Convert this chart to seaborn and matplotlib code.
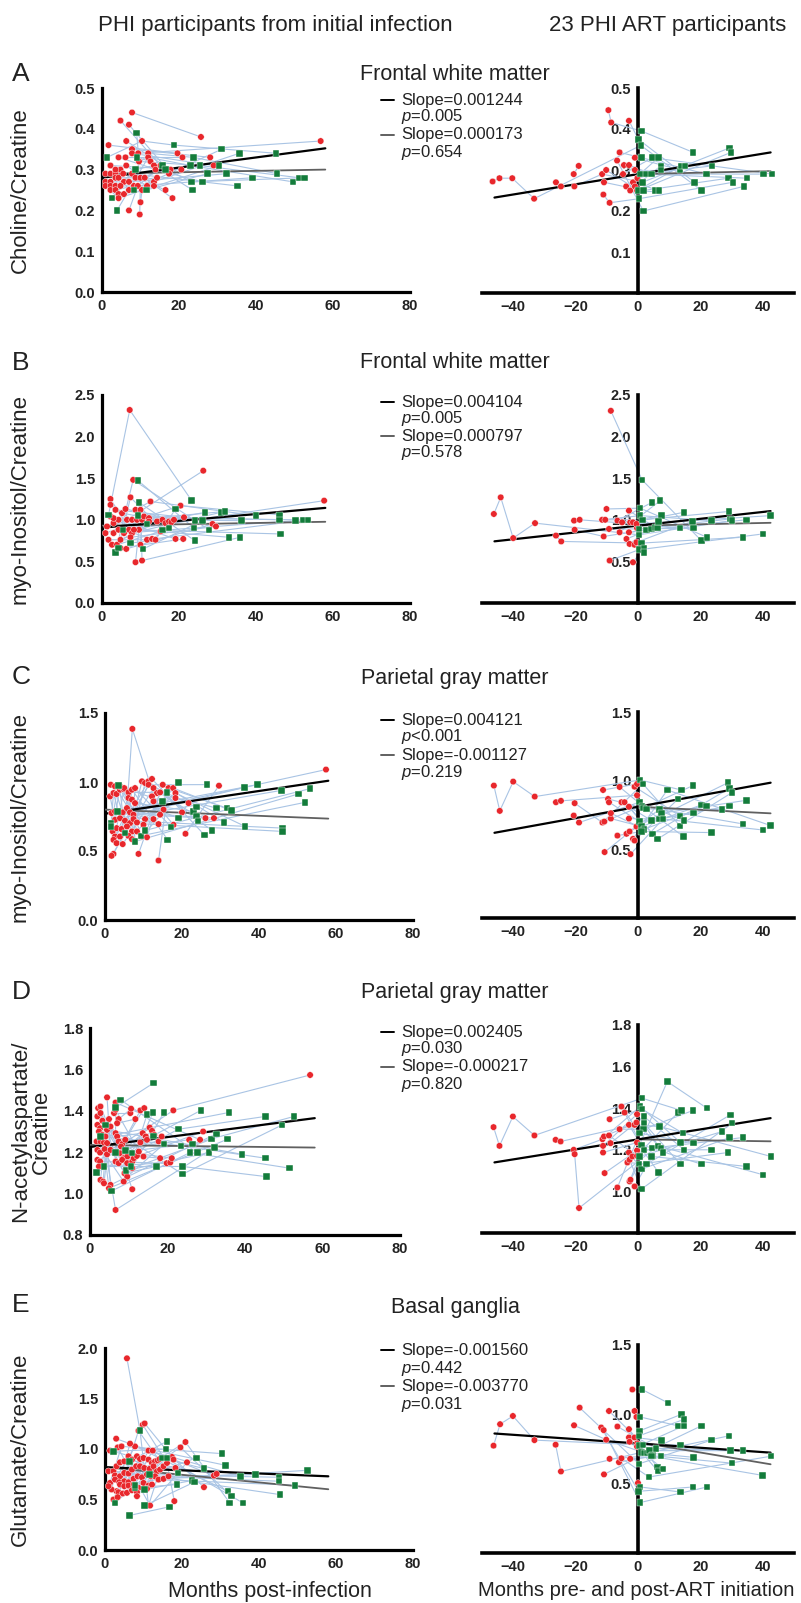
import numpy as np
import pandas as pd
import matplotlib
matplotlib.use("Agg")
import matplotlib.pyplot as plt
from matplotlib.lines import Line2D
from matplotlib.ticker import FormatStrFormatter
import seaborn as sns

sns.set_style("white")
plt.rcParams['font.family'] = ['Liberation Sans', 'DejaVu Sans']
plt.rcParams['mathtext.fontset'] = 'custom'
plt.rcParams['mathtext.rm'] = 'Liberation Sans'
plt.rcParams['mathtext.it'] = 'Liberation Sans:italic'

# ---------------- data (x, ratio, participant id) ----------------
# Panel A - Choline/Creatine, frontal white matter
a_left_red = [(1.7,0.36,1),(4.8,0.42,2),(7.0,0.41,3),(7.8,0.44,4),(6.3,0.37,5),(10.4,0.37,6),(7.8,0.35,7),
    (7.8,0.34,8),(9.4,0.34,9),(12.0,0.34,10),(12.0,0.33,11),(4.3,0.33,12),(6.1,0.33,13),(9.6,0.32,14),
    (12.6,0.32,15),(2.2,0.31,16),(6.3,0.31,17),(13.5,0.31,18),(13.9,0.30,19),(15.2,0.31,2),(17.0,0.30,3),
    (17.8,0.30,5),(17.4,0.29,12),(19.6,0.34,1),(20.9,0.33,13),(20.6,0.30,16),(25.7,0.38,4),(28.1,0.33,7),
    (29.0,0.31,8),(56.8,0.37,9),(18.3,0.23,17),(16.5,0.25,20),(7.0,0.20,21),(9.8,0.19,22),(10.0,0.22,23),
    (0.9,0.29,24),(2.2,0.29,25),(3.5,0.29,26),(0.9,0.27,27),(2.2,0.27,28),(3.5,0.28,29),(0.9,0.26,30),
    (2.2,0.26,31),(3.5,0.26,32),(4.3,0.28,24),(4.8,0.30,25),(3.5,0.30,33),(5.5,0.29,26),(5.7,0.27,27),
    (4.8,0.26,28),(2.2,0.25,34),(3.5,0.25,35),(4.3,0.24,29),(4.3,0.23,30),(5.7,0.24,31),(7.0,0.27,32),
    (7.0,0.25,33),(7.8,0.29,34),(8.3,0.26,35),(8.7,0.28,20),(9.3,0.26,21),(10.0,0.28,22),(10.4,0.25,23),
    (11.1,0.28,24),(11.7,0.26,25),(13.5,0.27,26),(14.3,0.28,27),(13.5,0.26,28)]
a_left_grn = [(1.3,0.33,6),(2.6,0.23,10),(3.9,0.20,11),(9.0,0.39,14),(9.1,0.33,15),(8.7,0.30,18),(8.3,0.25,19),
    (11.5,0.25,29),(18.7,0.36,6),(23.7,0.33,10),(23.0,0.31,11),(25.4,0.31,14),(23.3,0.27,15),(23.5,0.25,18),
    (26.1,0.27,19),(27.4,0.29,29),(30.4,0.31,30),(31.1,0.35,31),(32.4,0.29,32),(35.7,0.34,33),(35.2,0.26,34),
    (39.1,0.28,35),(45.2,0.34,6),(45.5,0.29,10),(49.6,0.27,11),(51.3,0.28,14),(52.6,0.28,15),(15.7,0.31,21),
    (16.5,0.30,22)]
a_right_red = [(-46.6,0.272,1),(-44.4,0.28,1),(-40.3,0.28,1),(-33.3,0.23,1),(-26.3,0.27,2),(-24.7,0.26,2),
    (-20.4,0.26,3),(-20.6,0.29,4),(-19.0,0.31,4),(-11.5,0.29,3),(-10.2,0.30,5),(-10.9,0.27,6),(-11.1,0.24,7),
    (-9.1,0.22,7),(-9.5,0.446,8),(-8.6,0.416,8),(-5.9,0.343,9),(-6.7,0.323,10),(-4.5,0.312,11),(-2.9,0.312,12),
    (-2.9,0.42,13),(-4.8,0.29,14),(-3.8,0.26,15),(-2.5,0.25,16),(-1.6,0.27,17),(-1.0,0.26,18),(-1.0,0.30,19),
    (-1.0,0.33,20),(-0.3,0.25,21),(-0.2,0.28,22)]
a_right_grn = [(1.1,0.395,8),(0.1,0.375,13),(0.9,0.36,1),(1.1,0.33,9),(0.8,0.29,2),(1.4,0.27,3),(0.1,0.25,5),
    (1.7,0.25,6),(0.3,0.23,7),(1.7,0.20,10),(2.7,0.29,11),(4.4,0.29,12),(4.6,0.33,14),(6.5,0.33,15),(5.4,0.25,16),
    (6.7,0.25,17),(7.3,0.31,18),(7.3,0.30,19),(13.4,0.30,20),(14.0,0.31,21),(15.0,0.31,22),(17.7,0.343,8),
    (18.1,0.27,13),(20.4,0.25,1),(22.0,0.29,9),(23.7,0.31,2),(29.4,0.354,3),(29.8,0.343,5),(29.0,0.28,6),
    (30.4,0.27,7),(33.9,0.26,10),(35.0,0.28,11),(40.3,0.29,12),(43.0,0.29,14)]

# Panel B - myo-Inositol/Creatine, frontal white matter
b_left_red = [(7.2,2.32,1),(8.1,1.48,2),(7.4,1.27,3),(26.3,1.59,4),(57.7,1.23,5),(2.2,1.25,6),(2.2,1.18,7),
    (12.6,1.22,8),(20.4,1.17,9),(8.7,0.49,10),(10.4,0.51,11),(10.0,0.70,12),(1.3,0.92,13),(2.2,1.04,14),
    (3.0,0.96,15),(0.9,0.84,16),(1.7,0.76,17),(3.0,0.84,18),(2.6,0.70,19),(3.9,0.70,20),(4.8,0.76,21),
    (4.3,0.88,22),(4.3,1.0,23),(5.2,1.08,24),(6.1,1.13,25),(6.5,1.0,4),(7.0,0.88,5),(7.8,0.84,6),(7.8,1.0,7),
    (8.7,1.12,8),(9.1,1.0,9),(9.6,0.88,10),(10.0,1.12,11),(10.4,1.0,12),(10.9,1.04,13),(3.0,1.02,26),
    (3.5,1.12,27),(4.8,0.66,28),(6.3,0.65,29),(7.4,0.79,30),(8.3,0.88,14),(5.7,0.84,15),(12.2,1.02,16),
    (11.7,0.76,17),(12.2,0.98,18),(14.3,0.98,19),(15.2,0.86,20),(15.7,1.0,21),(16.5,0.96,22),(17.4,0.98,23),
    (18.0,0.97,24),(18.7,1.0,25),(19.1,0.77,26),(21.3,1.03,27),(21.1,0.77,28),(28.7,0.95,29),(29.6,0.92,30),
    (13.0,0.77,31),(13.9,0.76,32)]
b_left_grn = [(1.7,1.06,1),(3.5,0.61,2),(4.3,0.66,3),(5.5,0.88,31),(7.4,0.72,32),(9.4,1.47,33),(9.6,1.21,34),
    (9.3,1.05,35),(10.7,0.65,36),(11.7,0.95,37),(15.7,0.88,3),(17.4,0.90,31),(19.1,1.13,32),(23.3,1.23,1),
    (23.9,0.90,33),(24.1,0.75,34),(24.1,0.99,35),(26.1,0.99,36),(26.7,1.09,37),(27.8,0.88,2),(30.9,1.09,6),
    (31.9,1.10,7),(33.0,0.79,10),(35.9,0.79,11),(36.3,0.99,12),(40.0,1.05,8),(46.1,1.06,9),(46.1,1.0,13),
    (46.3,0.83,14),(50.2,0.99,15),(52.2,1.0,16),(53.5,1.0,17)]
b_right_red = [(-46.2,1.07,1),(-44.0,1.27,1),(-40.0,0.78,1),(-33.0,0.96,1),(-26.3,0.81,2),(-24.6,0.74,2),
    (-20.5,0.99,3),(-18.7,1.0,3),(-20.3,0.88,4),(-11.0,0.80,4),(-10.1,1.13,5),(-11.5,1.0,6),(-10.5,1.0,7),
    (-9.3,0.89,8),(-9.1,0.51,9),(-8.7,2.31,10),(-6.6,0.99,11),(-5.9,0.85,12),(-5.1,0.97,13),(-3.7,0.77,14),
    (-2.9,1.11,15),(-2.9,0.85,16),(-2.7,0.71,17),(-2.5,0.97,18),(-1.6,0.97,19),(-1.6,0.49,20),(-1.1,0.70,21),
    (-0.5,0.73,22),(-0.3,0.90,23),(-0.5,0.95,3)]
b_right_grn = [(1.3,1.48,10),(0.7,1.14,5),(0.7,1.05,6),(1.4,1.0,7),(0.3,0.89,8),(0.3,0.82,1),(1.1,0.72,2),
    (0.3,0.64,9),(1.9,0.66,20),(1.9,0.61,21),(2.7,0.88,4),(4.5,1.21,11),(7.1,1.23,12),(7.5,1.05,13),(4.3,0.89,14),
    (5.5,0.91,15),(6.2,0.90,16),(6.6,0.98,17),(13.5,0.90,18),(14.7,1.09,19),(17.4,0.98,22),(17.8,0.90,23),
    (20.3,0.75,10),(22.1,0.79,5),(23.5,0.99,6),(29.1,1.10,7),(29.7,1.01,8),(30.1,0.99,1),(33.6,0.79,2),
    (34.7,1.0,4),(40.0,0.83,9),(42.5,1.05,3)]

# Panel C - myo-Inositol/Creatine, parietal gray matter
c_left_red = [(7.1,1.385,1),(57.4,1.09,2),(1.5,0.98,3),(1.3,0.896,4),(2.2,0.92,5),(3.0,0.913,6),(3.9,0.944,7),
    (4.8,0.949,8),(2.6,0.969,9),(3.9,0.969,10),(5.0,0.956,11),(6.1,0.925,12),(7.0,0.944,13),(7.8,0.956,14),
    (6.1,0.884,15),(7.0,0.872,16),(7.8,0.847,17),(9.6,1.005,18),(10.4,0.993,19),(11.3,1.005,20),(12.2,1.022,21),
    (11.3,0.98,22),(12.6,0.956,23),(13.5,0.92,24),(15.0,0.98,25),(16.5,0.956,26),(17.7,0.956,27),(18.3,0.92,28),
    (18.3,0.884,29),(14.3,0.925,30),(12.2,0.896,31),(12.6,0.86,32),(21.7,0.847,33),(29.6,0.973,34),
    (1.7,0.775,35),(2.6,0.787,36),(3.5,0.787,37),(4.6,0.78,38),(5.7,0.811,1),(6.5,0.78,2),(7.4,0.763,3),
    (2.6,0.726,4),(3.9,0.738,5),(5.2,0.719,6),(6.5,0.702,7),(7.4,0.731,8),(8.3,0.707,9),(2.0,0.642,10),
    (3.0,0.666,11),(4.3,0.659,12),(5.7,0.678,13),(7.0,0.642,14),(8.3,0.642,15),(2.6,0.605,16),(3.9,0.605,17),
    (6.1,0.61,18),(7.0,0.586,19),(2.2,0.581,20),(3.0,0.557,21),(2.2,0.479,22),(1.7,0.465,23),(4.6,0.55,24),
    (8.7,0.479,25),(13.9,0.431,26),(10.4,0.731,27),(10.0,0.69,28),(9.6,0.605,29),(10.9,0.60,30),(15.2,0.80,31),
    (17.8,0.69,32),(20.0,0.78,33),(20.9,0.625,34),(26.1,0.738,35),(28.3,0.738,36),(12.6,0.731,37),
    (13.9,0.695,38),(14.3,0.763,1)]
c_left_grn = [(3.5,0.973,3),(3.2,0.787,4),(1.6,0.70,5),(1.6,0.678,6),(5.2,0.63,7),(7.8,0.569,8),(9.3,0.61,9),
    (10.4,0.649,10),(15.0,0.86,11),(16.1,0.925,12),(16.3,0.581,13),(17.2,0.673,14),(19.1,0.998,15),
    (19.1,0.738,16),(23.0,0.787,17),(23.7,0.818,18),(23.7,0.755,19),(24.1,0.719,20),(25.8,0.617,21),
    (26.5,0.981,22),(27.8,0.649,23),(29.0,0.811,24),(30.9,0.707,25),(31.7,0.811,26),(32.9,0.792,27),
    (36.4,0.678,28),(36.3,0.961,3),(39.6,0.981,4),(45.8,0.939,5),(46.1,0.666,6),(46.1,0.642,7),(50.2,0.913,8),
    (51.9,0.852,9),(53.3,0.952,10)]
c_right_red = [(-46.2,0.964,1),(-44.3,0.78,1),(-40.0,0.993,1),(-33.1,0.884,1),(-26.3,0.843,2),(-24.7,0.853,2),
    (-20.3,0.836,3),(-20.6,0.746,4),(-18.9,0.695,4),(-11.4,0.695,3),(-10.8,0.702,5),(-11.2,0.932,6),
    (-10.7,0.48,7),(-9.6,0.867,8),(-9.3,0.843,9),(-8.7,0.724,10),(-8.7,0.763,11),(-6.6,0.60,12),(-5.9,0.954,13),
    (-5.3,0.843,14),(-4.3,0.843,15),(-2.9,0.81,16),(-2.9,0.724,17),(-3.7,0.613,18),(-2.7,0.63,19),
    (-2.4,0.465,20),(-1.6,0.576,21),(-1.1,0.564,22),(-1.1,0.956,23),(-0.3,0.976,6),(-0.3,0.894,2),(-0.5,0.666,7)]
c_right_grn = [(0.7,1.005,1),(1.6,0.976,3),(0.5,0.843,4),(1.3,0.816,5),(1.8,0.80,8),(0.5,0.702,9),(1.1,0.666,10),
    (1.9,0.646,11),(1.1,0.63,12),(2.7,0.794,13),(4.3,0.71,14),(4.6,0.613,15),(6.2,0.574,16),(6.7,0.721,17),
    (6.9,0.791,18),(7.5,0.763,19),(8.0,0.721,20),(9.4,0.932,21),(12.8,0.865,22),(13.5,0.743,23),(13.9,0.932,1),
    (13.5,0.67,3),(14.7,0.71,4),(14.6,0.593,5),(17.6,0.964,8),(17.8,0.763,9),(20.3,0.823,10),(22.0,0.816,11),
    (23.5,0.622,12),(27.0,0.79,13),(28.8,0.985,14),(29.3,0.944,15),(30.1,0.913,16),(29.3,0.816,17),
    (33.6,0.685,18),(34.7,0.857,19),(40.0,0.641,20),(42.5,0.673,21)]

# Panel D - N-acetylaspartate/Creatine, parietal gray matter
d_left_red = [(56.8,1.573,1),(4.4,1.465,2),(6.6,1.44,3),(2.1,1.413,4),(2.7,1.421,5),(1.9,1.373,6),(2.7,1.389,7),
    (3.2,1.352,8),(1.9,1.332,9),(2.6,1.316,10),(2.3,1.30,11),(1.7,1.252,12),(2.7,1.252,13),(3.6,1.247,14),
    (4.4,1.244,15),(3.2,1.284,16),(4.0,1.276,17),(4.4,1.308,18),(5.3,1.324,19),(4.9,1.36,20),(6.2,1.389,21),
    (7.4,1.36,22),(7.0,1.34,23),(6.6,1.405,24),(6.6,1.292,25),(7.0,1.276,26),(7.4,1.252,27),(8.3,1.239,28),
    (8.0,1.227,29),(9.1,1.26,30),(8.7,1.203,31),(7.7,1.195,32),(8.7,1.171,33),(9.6,1.179,34),(1.9,1.211,35),
    (2.6,1.198,36),(1.9,1.163,37),(2.6,1.155,38),(2.3,1.131,39),(3.8,1.215,40),(4.4,1.19,1),(5.3,1.211,2),
    (6.6,1.155,3),(7.4,1.147,4),(8.3,1.163,5),(9.6,1.147,6),(10.9,1.155,7),(11.3,1.171,8),(12.1,1.182,9),
    (8.9,1.098,10),(9.6,1.082,11),(8.7,1.058,12),(10.9,1.123,13),(6.6,0.921,14),(5.3,1.042,15),(4.9,1.026,16),
    (2.7,1.066,17),(3.4,1.058,18),(3.6,1.05,19),(10.9,1.021,20),(10.4,1.389,21),(10.6,1.41,22),(11.7,1.36,23),
    (12.6,1.203,24),(13.0,1.247,25),(13.6,1.292,26),(13.8,1.179,27),(14.4,1.276,28),(13.0,1.402,29),
    (14.0,1.413,30),(14.7,1.26,31),(15.4,1.319,32),(16.0,1.303,33),(16.6,1.284,34),(17.7,1.252,35),
    (18.1,1.171,36),(18.5,1.276,37),(19.8,1.147,38),(20.7,1.15,39),(21.1,1.171,40),(21.5,1.402,1),(25.6,1.26,2),
    (28.4,1.26,3),(29.2,1.30,4)]
d_left_grn = [(1.7,1.102,41),(2.7,1.276,42),(3.6,1.131,43),(4.0,1.332,44),(5.6,1.013,45),(6.6,1.198,46),
    (6.6,1.416,47),(7.9,1.453,48),(9.1,1.208,49),(9.3,1.111,50),(10.6,1.131,5),(10.9,1.195,6),(14.7,1.381,7),
    (16.2,1.392,8),(16.4,1.534,47),(16.4,1.279,9),(17.1,1.131,10),(19.1,1.24,11),(19.1,1.392,12),
    (22.8,1.311,41),(23.5,1.231,42),(23.9,1.131,43),(23.9,1.094,44),(25.8,1.198,45),(26.5,1.24,46),
    (27.7,1.198,48),(28.6,1.402,49),(30.7,1.198,50),(31.4,1.263,13),(32.1,1.223,14),(32.6,1.289,15),
    (35.5,1.263,16),(35.9,1.392,17),(39.2,1.19,18),(45.3,1.373,41),(45.3,1.171,42),(45.5,1.082,43),
    (49.6,1.332,44),(51.5,1.123,45),(52.7,1.373,46)]
d_right_red = [(-46.3,1.309,1),(-44.4,1.219,1),(-40.1,1.36,1),(-33.2,1.269,1),(-26.4,1.248,2),(-24.8,1.24,2),
    (-20.6,1.20,3),(-20.3,1.179,4),(-18.9,0.92,4),(-11.4,1.251,3),(-10.9,1.264,5),(-11.2,1.219,6),
    (-11.2,1.187,7),(-10.7,1.088,8),(-9.3,1.269,9),(-9.1,1.347,10),(-8.8,1.232,11),(-6.6,1.019,12),
    (-5.9,1.299,13),(-5.3,1.408,14),(-4.3,1.379,15),(-2.9,1.32,16),(-2.7,1.048,17),(-2.4,1.056,18),
    (-2.9,1.187,19),(-3.4,1.139,20),(-2.7,1.152,21),(-1.8,1.168,22),(-1.1,1.024,23),(-1.1,1.32,2),
    (-0.5,1.331,5),(-0.3,1.371,6),(-0.3,1.235,7),(-0.3,1.197,8),(-0.3,1.171,9)]
d_right_grn = [(1.3,1.448,1),(0.7,1.408,3),(1.3,1.395,10),(1.9,1.36,11),(1.9,1.328,12),(1.8,1.299,13),
    (0.5,1.28,14),(1.1,1.224,15),(1.9,1.20,16),(0.5,1.168,17),(0.3,1.131,18),(1.1,1.107,19),(2.7,1.131,20),
    (1.1,1.011,21),(4.5,1.208,22),(4.3,1.168,23),(6.4,1.219,4),(6.9,1.312,2),(7.3,1.208,5),(8.0,1.187,6),
    (6.6,1.091,7),(9.4,1.528,8),(12.8,1.379,9),(13.9,1.389,1),(13.6,1.235,3),(14.4,1.28,10),(14.8,1.20,11),
    (13.6,1.131,12),(17.6,1.389,13),(17.8,1.232,14),(20.3,1.131,15),(22.1,1.40,8),(23.5,1.20,16),
    (27.0,1.288,17),(28.9,1.187,18),(29.4,1.259,19),(29.6,1.368,20),(30.2,1.328,21),(33.7,1.259,22),
    (34.8,1.12,23),(40.1,1.08,4),(42.6,1.168,2)]

# Panel E - Glutamate/Creatine, basal ganglia
e_left_red = [(5.7,1.898,1),(8.7,1.181,2),(9.8,1.24,3),(10.3,1.253,4),(2.9,1.102,5),(1.3,0.984,6),(3.3,1.016,7),
    (4.3,1.026,8),(7.8,1.026,9),(6.5,1.053,10),(20.9,1.069,11),(19.6,1.016,12),(11.3,0.984,13),(12.4,0.984,14),
    (0.9,0.78,15),(2.2,0.78,16),(3.0,0.829,17),(3.9,0.868,18),(5.0,0.878,19),(6.1,0.928,20),(7.0,0.895,21),
    (8.3,0.928,22),(9.1,0.901,23),(10.0,0.911,24),(11.3,0.895,25),(12.2,0.862,26),(13.0,0.878,27),
    (13.7,0.888,28),(14.2,0.901,29),(2.6,0.737,30),(3.9,0.73,31),(5.0,0.763,32),(6.1,0.757,33),(7.0,0.796,34),
    (8.1,0.829,35),(9.1,0.829,36),(10.2,0.812,37),(11.6,0.803,38),(12.6,0.829,39),(13.5,0.78,40),
    (14.3,0.796,1),(15.2,0.829,2),(16.1,0.862,3),(17.4,0.921,4),(17.8,0.895,5),(18.3,0.812,6),(21.3,0.868,7),
    (1.3,0.664,8),(2.6,0.697,9),(3.7,0.671,10),(5.0,0.681,11),(6.1,0.671,12),(7.4,0.704,13),(8.5,0.73,14),
    (9.6,0.72,15),(10.9,0.747,16),(11.9,0.73,17),(13.0,0.73,18),(13.9,0.697,19),(15.2,0.704,20),(16.5,0.73,21),
    (3.0,0.582,22),(3.9,0.648,23),(5.0,0.632,24),(6.1,0.638,25),(7.4,0.648,26),(8.7,0.615,27),(10.0,0.664,28),
    (11.3,0.638,29),(1.7,0.599,30),(0.9,0.632,31),(2.2,0.50,32),(3.5,0.572,33),(4.6,0.559,34),(5.7,0.566,35),
    (7.0,0.592,36),(8.3,0.572,37),(10.9,0.605,38),(12.2,0.648,39),(8.3,0.533,40),(11.3,0.44,1),(3.3,0.523,2),
    (18.0,0.484,3),(25.7,0.622,4),(28.3,0.737,5),(29.0,0.753,6),(11.7,0.44,7)]
e_left_grn = [(2.6,0.467,41),(2.2,0.977,42),(6.3,0.878,43),(6.3,0.342,44),(7.8,0.615,45),(7.8,0.638,46),
    (9.1,1.181,1),(10.3,0.599,47),(10.3,0.44,48),(11.6,0.747,49),(14.8,0.911,50),(16.1,0.911,41),(15.8,1.0,42),
    (16.1,1.076,43),(16.8,0.428,44),(18.7,0.648,45),(18.9,0.763,46),(22.6,0.688,47),(23.3,0.674,48),
    (23.7,0.911,49),(25.7,0.806,50),(30.4,0.954,8),(31.3,0.839,9),(31.9,0.582,10),(32.4,0.467,11),
    (32.8,0.533,12),(35.2,0.73,13),(35.8,0.467,14),(39.1,0.747,15),(45.2,0.72,16),(45.2,0.681,17),
    (45.4,0.549,18),(49.3,0.641,19),(52.6,0.789,20)]
e_right_red = [(-46.3,0.774,1),(-44.2,0.929,1),(-40.1,0.988,1),(-33.2,0.814,1),(-26.4,0.781,2),(-24.7,0.588,2),
    (-20.5,0.921,3),(-18.7,1.048,4),(-11.8,0.905,5),(-11.0,0.886,6),(-10.2,0.817,3),(-10.9,0.567,7),
    (-9.3,1.024,8),(-9.1,0.679,9),(-6.6,0.912,10),(-6.1,0.655,11),(-5.3,0.683,12),(-2.9,0.893,13),
    (-2.9,0.833,14),(-2.5,0.679,15),(-1.8,1.179,16),(-1.1,1.024,17),(-0.5,0.981,18),(-0.3,0.79,19),
    (-0.3,0.767,20),(0.0,0.505,21),(-2.7,0.802,22),(-1.1,0.833,23)]
e_right_grn = [(1.3,1.179,16),(0.7,0.981,17),(0.5,0.881,18),(0.3,0.845,19),(0.5,0.774,20),(1.6,0.779,1),
    (1.1,0.726,2),(2.1,0.721,3),(0.3,0.643,4),(0.7,0.476,21),(0.2,0.445,5),(0.7,0.364,6),(2.9,0.721,7),
    (3.7,0.738,8),(4.6,0.702,9),(5.7,0.755,10),(4.3,0.698,11),(3.5,0.548,12),(6.2,0.619,13),(6.4,0.59,14),
    (7.3,0.698,15),(8.0,0.607,22),(7.5,0.81,23),(9.6,1.083,16),(12.8,0.917,17),(13.9,1.0,18),(14.8,0.964,19),
    (14.7,0.917,20),(13.6,0.779,1),(13.6,0.44,21),(17.6,0.476,5),(17.8,0.69,2),(20.3,0.917,3),(22.1,0.476,6),
    (23.5,0.814,4),(29.2,0.845,7),(29.7,0.738,8),(30.1,0.648,9),(33.7,0.738,10),(39.9,0.56,11),(42.6,0.698,12)]

# fitted lines: (intercept, slope) for black (all) and gray (ART) lines
fit_left_black = [(0.280, 0.001244), (0.905, 0.004104), (0.770, 0.004121), (1.225, 0.002405), (0.820, -0.001560)]
fit_left_gray = [(0.290, 0.000173), (0.930, 0.000797), (0.800, -0.001127), (1.235, -0.000217), (0.820, -0.003770)]
fit_right_black = [(0.290, 0.001244), (0.930, 0.004104), (0.810, 0.004121), (1.250, 0.002405), (0.790, -0.001560)]
fit_right_gray = [(0.290, 0.000173), (0.930, 0.000797), (0.810, -0.001127), (1.250, -0.000217), (0.800, -0.003770)]

letters = ["A", "B", "C", "D", "E"]
regions = ["Frontal white matter", "Frontal white matter", "Parietal gray matter",
           "Parietal gray matter", "Basal ganglia"]
ylabels = ["Choline/Creatine", "myo-Inositol/Creatine", "myo-Inositol/Creatine",
           "N-acetylaspartate/\nCreatine", "Glutamate/Creatine"]
stats = [("Slope=0.001244", "0.005", "Slope=0.000173", "=0.654"),
         ("Slope=0.004104", "0.005", "Slope=0.000797", "=0.578"),
         ("Slope=0.004121", "<0.001", "Slope=-0.001127", "=0.219"),
         ("Slope=0.002405", "0.030", "Slope=-0.000217", "=0.820"),
         ("Slope=-0.001560", "0.442", "Slope=-0.003770", "=0.031")]
ylims = [(0, 0.5), (0, 2.5), (0, 1.5), (0.8, 1.8), (0, 2.0)]
left_ticks = [[0, 0.1, 0.2, 0.3, 0.4, 0.5], [0, 0.5, 1.0, 1.5, 2.0, 2.5], [0, 0.5, 1.0, 1.5],
              [0.8, 1.0, 1.2, 1.4, 1.6, 1.8], [0, 0.5, 1.0, 1.5, 2.0]]
right_ylims = [(0, 0.5), (0, 2.5), (0, 1.5), (0.8, 1.8), (0, 1.5)]
right_ticks = [[0.1, 0.2, 0.3, 0.4, 0.5], [0.5, 1.0, 1.5, 2.0, 2.5], [0.5, 1.0, 1.5],
               [1.0, 1.2, 1.4, 1.6, 1.8], [0.5, 1.0, 1.5]]
left_data = [(a_left_red, a_left_grn), (b_left_red, b_left_grn), (c_left_red, c_left_grn),
             (d_left_red, d_left_grn), (e_left_red, e_left_grn)]
right_data = [(a_right_red, a_right_grn), (b_right_red, b_right_grn), (c_right_red, c_right_grn),
              (d_right_red, d_right_grn), (e_right_red, e_right_grn)]

# ---------------- layout (pixel positions in the 801x1603 figure) ----------------
W, H = 801, 1603
left_box = [(102, 88, 292), (102, 395, 603), (105, 713, 920), (90, 1028, 1235), (105, 1348, 1550)]
right_box = [(88, 293), (395, 603), (712, 918), (1025, 1233), (1345, 1553)]
letter_y = [74, 363, 677, 992, 1305]
title_y = [75, 363, 678, 992, 1308]
stat_y = [(100, 117, 135, 152), (402, 418, 436, 453), (720, 737, 755, 772),
          (1032, 1049, 1067, 1085), (1350, 1368, 1386, 1404)]

RED = "#e8272c"
GREEN = "#137c3b"
LINK = "#a9c4e4"
TXT = "#222222"


def fx(px):
    return px / W


def fy(py):
    return 1 - py / H


def frame(red, grn):
    r = pd.DataFrame(red, columns=["x", "y", "sid"])
    r["status"] = "pre"
    g = pd.DataFrame(grn, columns=["x", "y", "sid"])
    g["status"] = "art"
    return pd.concat([r, g], ignore_index=True)


def draw(ax, df):
    sns.lineplot(data=df, x="x", y="y", units="sid", estimator=None, sort=True,
                 color=LINK, lw=0.8, ax=ax, zorder=1, legend=False)
    sns.scatterplot(data=df, x="x", y="y", hue="status", style="status",
                    markers={"pre": "o", "art": "s"}, palette={"pre": RED, "art": GREEN},
                    s=22, edgecolor="white", linewidth=0.3, ax=ax, zorder=4, legend=False,
                    clip_on=False)


def style_axis(ax):
    for side in ["top", "right"]:
        ax.spines[side].set_visible(False)
    for side in ["left", "bottom"]:
        ax.spines[side].set_linewidth(2.3)
        ax.spines[side].set_color("black")
    ax.tick_params(axis="both", direction="out", length=3.5, width=1.5, labelsize=10.5,
                   pad=1.5, colors="black")
    for lab in ax.get_xticklabels() + ax.get_yticklabels():
        lab.set_fontweight("bold")
        lab.set_color("#222222")
    ax.set_xlabel("")
    ax.set_ylabel("")
    ax.patch.set_alpha(0)


fig = plt.figure(figsize=(W / 100, H / 100), dpi=100)

for i in range(5):
    # left panel
    x0, top, bot = left_box[i]
    wpx = 310 if i == 3 else 308
    ax = fig.add_axes([fx(x0), fy(bot), wpx / W, (bot - top) / H])
    draw(ax, frame(*left_data[i]))
    xs = np.array([0, 58])
    b0, b1 = fit_left_black[i]
    g0, g1 = fit_left_gray[i]
    ax.plot(xs, g0 + g1 * xs, color="#606060", lw=1.3, zorder=3)
    ax.plot(xs, b0 + b1 * xs, color="black", lw=1.6, zorder=3)
    ax.set_xlim(0, 80)
    ax.set_ylim(*ylims[i])
    ax.set_xticks([0, 20, 40, 60, 80])
    ax.set_yticks(left_ticks[i])
    ax.yaxis.set_major_formatter(FormatStrFormatter("%.1f"))
    style_axis(ax)

    # right panel
    top, bot = right_box[i]
    axr = fig.add_axes([fx(482), fy(bot), 312 / W, (bot - top) / H])
    draw(axr, frame(*right_data[i]))
    xb = np.array([-46, 42.5])
    xg = np.array([0, 42.5])
    b0, b1 = fit_right_black[i]
    g0, g1 = fit_right_gray[i]
    axr.plot(xg, g0 + g1 * xg, color="#606060", lw=1.3, zorder=3)
    axr.plot(xb, b0 + b1 * xb, color="black", lw=1.6, zorder=3)
    axr.set_xlim(-50, 50)
    axr.set_ylim(*right_ylims[i])
    axr.set_xticks([-40, -20, 0, 20, 40])
    axr.set_yticks(right_ticks[i])
    axr.yaxis.set_major_formatter(FormatStrFormatter("%.1f"))
    axr.spines["left"].set_position(("data", 0))
    style_axis(axr)
    axr.spines["left"].set_linewidth(2.6)
    axr.spines["bottom"].set_linewidth(2.6)

    # panel letter, region title, y label
    fig.text(fx(12), fy(letter_y[i]), letters[i], fontsize=19, color=TXT, va="center", ha="left")
    fig.text(fx(455), fy(title_y[i]), regions[i], fontsize=15.5, color=TXT, va="center", ha="center")
    x0, top, bot = left_box[i]
    ylx = 31 if i == 3 else 20
    fig.text(fx(ylx), fy((top + bot) / 2), ylabels[i], fontsize=16, color=TXT, rotation=90,
             va="center", ha="center", linespacing=1.0)

    # slope / p annotations
    s1, p1, s2, p2 = stats[i]
    y1, y2, y3, y4 = stat_y[i]
    fig.add_artist(Line2D([fx(381), fx(394)], [fy(y1), fy(y1)], color="black", lw=1.4,
                          transform=fig.transFigure))
    fig.add_artist(Line2D([fx(381), fx(394)], [fy(y3), fy(y3)], color="#606060", lw=1.4,
                          transform=fig.transFigure))
    p1txt = r"$\mathit{p}$" + ("" if p1.startswith("<") else "=") + p1
    fig.text(fx(401), fy(y1), s1, fontsize=12, color=TXT, va="center", ha="left")
    fig.text(fx(401), fy(y2), p1txt, fontsize=12, color=TXT, va="center", ha="left")
    fig.text(fx(401), fy(y3), s2, fontsize=12, color=TXT, va="center", ha="left")
    fig.text(fx(401), fy(y4), r"$\mathit{p}$" + p2, fontsize=12, color=TXT, va="center", ha="left")

# column headers and x labels
fig.text(fx(275), fy(25), "PHI participants from initial infection", fontsize=16, color=TXT,
         ha="center", va="center")
fig.text(fx(668), fy(25), "23 PHI ART participants", fontsize=16, color=TXT, ha="center", va="center")
fig.text(fx(270), fy(1591), "Months post-infection", fontsize=15.5, color=TXT, ha="center", va="center")
fig.text(fx(636), fy(1591), "Months pre- and post-ART initiation", fontsize=14.5, color=TXT,
         ha="center", va="center")

fig.savefig("out.png", dpi=100, facecolor="white")
